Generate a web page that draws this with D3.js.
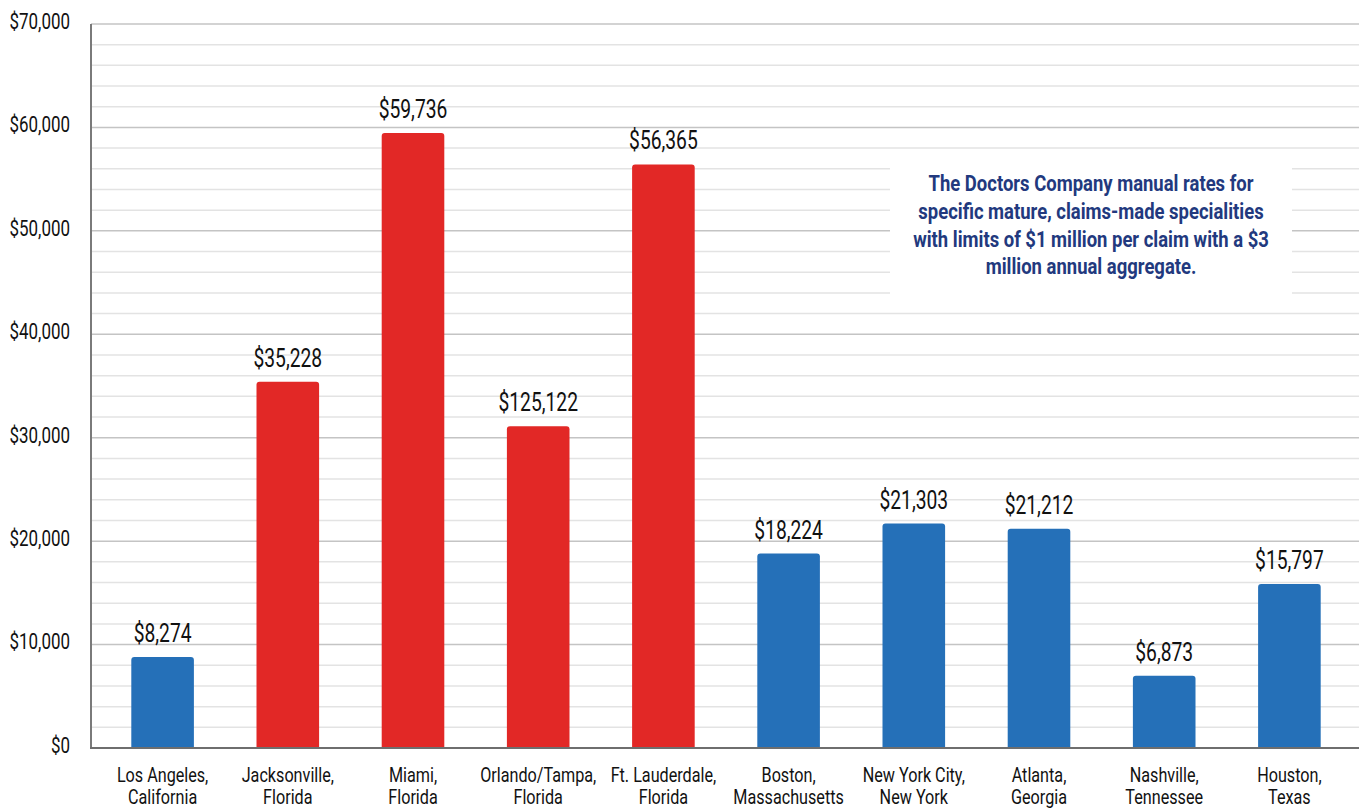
<!DOCTYPE html>
<html>
<head>
    <meta charset="UTF-8" />
    <title>Manual rates by city</title>
    <style>
        body { margin: 0; background: #fff; }
        svg text { font-family: "Roboto", "Noto Sans", sans-serif; }
    </style>
</head>
<body>
    <svg id="chart" width="1359" height="811"></svg>
    <script src="https://d3js.org/d3.v7.min.js"></script>
    <script>
        // donnees
        const cities = ["Los Angeles,|California", "Jacksonville,|Florida", "Miami,|Florida", "Orlando/Tampa,|Florida",
            "Ft. Lauderdale,|Florida", "Boston,|Massachusetts", "New York City,|New York", "Atlanta,|Georgia",
            "Nashville,|Tennessee", "Houston,|Texas"];
        const barValues = [8800, 35400, 59450, 31100, 56420, 18800, 21700, 21200, 6990, 15850];
        const barLabels = ["$8,274", "$35,228", "$59,736", "$125,122", "$56,365", "$18,224", "$21,303", "$21,212", "$6,873", "$15,797"];
        const florida = [false, true, true, true, true, false, false, false, false, false];
        const yTicks = [0, 10000, 20000, 30000, 40000, 50000, 60000, 70000];
        const note = ["The Doctors Company manual rates for", "specific mature, claims-made specialities",
            "with limits of $1 million per claim with a $3", "million annual aggregate."];

        const svg = d3.select("#chart");
        const mLeft = 91, mRight = 1359, mTop = 24, mBottom = 748;
        const narrow = 0.77; // pas de police condensee : on compresse en largeur

        let x = d3.scaleBand()
            .domain(cities)
            .range([100, 1352])
            .paddingInner(0.5)
            .paddingOuter(0.25);

        let y = d3.scaleLinear()
            .domain([0, 70000])
            .range([mBottom, mTop]);

        // lignes de grille (mineures tous les 2000)
        const minor = d3.range(2000, 70001, 2000).filter(v => v % 10000 != 0);
        svg.append("g").selectAll("line")
            .data(minor)
            .join("line")
            .attr("x1", mLeft).attr("x2", mRight)
            .attr("y1", d => y(d)).attr("y2", d => y(d))
            .attr("stroke", "#e3e3e3").attr("stroke-width", 1.5);

        svg.append("g").selectAll("line")
            .data(yTicks.slice(1))
            .join("line")
            .attr("x1", mLeft).attr("x2", mRight)
            .attr("y1", d => y(d)).attr("y2", d => y(d))
            .attr("stroke", "#c4c4c4").attr("stroke-width", 1.5);

        // boite blanche de la note
        svg.append("rect")
            .attr("x", 890).attr("y", 158)
            .attr("width", 402).attr("height", 142)
            .attr("fill", "#fff");

        // axe y
        let yAxis = d3.axisLeft(y)
            .tickValues(yTicks)
            .tickSize(0)
            .tickPadding(21)
            .tickFormat(d => "$" + d3.format(",")(d));
        let gy = svg.append("g")
            .attr("transform", `translate(${mLeft},0)`)
            .call(yAxis);
        gy.select(".domain").remove();
        gy.selectAll("text")
            .attr("font-size", 22)
            .attr("fill", "#111")
            .attr("x", -21 / narrow)
            .attr("dy", "0.2em")
            .attr("transform", `scale(${narrow},1)`);

        // barres
        svg.append("g").selectAll("path")
            .data(cities)
            .join("path")
            .attr("d", (d, i) => {
                let x0 = x(d), w = x.bandwidth(), y0 = y(barValues[i]), r = 3;
                return `M${x0},${mBottom} V${y0 + r} Q${x0},${y0} ${x0 + r},${y0} H${x0 + w - r} Q${x0 + w},${y0} ${x0 + w},${y0 + r} V${mBottom} Z`;
            })
            .attr("fill", (d, i) => florida[i] ? "#e22826" : "#2570b8");

        // valeurs au-dessus des barres
        svg.append("g").selectAll("text")
            .data(cities)
            .join("text")
            .attr("transform", (d, i) => `translate(${x(d) + x.bandwidth() / 2},${y(barValues[i]) - 15}) scale(${narrow},1)`)
            .attr("text-anchor", "middle")
            .attr("font-size", 25)
            .attr("fill", "#111")
            .text((d, i) => barLabels[i]);

        // axes lignes
        svg.append("line")
            .attr("x1", mLeft).attr("x2", mLeft)
            .attr("y1", mTop).attr("y2", mBottom)
            .attr("stroke", "#7a7a7a").attr("stroke-width", 2);
        svg.append("line")
            .attr("x1", mLeft - 1).attr("x2", mRight)
            .attr("y1", mBottom).attr("y2", mBottom)
            .attr("stroke", "#6e6e6e").attr("stroke-width", 2);

        // etiquettes x sur deux lignes
        let gx = svg.append("g").selectAll("text")
            .data(cities)
            .join("text")
            .attr("transform", d => `translate(${x(d) + x.bandwidth() / 2},782) scale(${narrow},1)`)
            .attr("text-anchor", "middle")
            .attr("font-size", 21)
            .attr("fill", "#111");
        gx.selectAll("tspan")
            .data(d => d.split("|"))
            .join("tspan")
            .attr("x", 0)
            .attr("dy", (d, i) => i == 0 ? 0 : 22.5)
            .text(d => d);

        // note
        svg.append("text")
            .attr("transform", "translate(1091,191) scale(0.84,1)")
            .attr("text-anchor", "middle")
            .attr("font-size", 22)
            .attr("font-weight", "bold")
            .attr("fill", "#22397e")
            .selectAll("tspan")
            .data(note)
            .join("tspan")
            .attr("x", 0)
            .attr("dy", (d, i) => i == 0 ? 0 : 27.8)
            .text(d => d);
    </script>
</body>
</html>
